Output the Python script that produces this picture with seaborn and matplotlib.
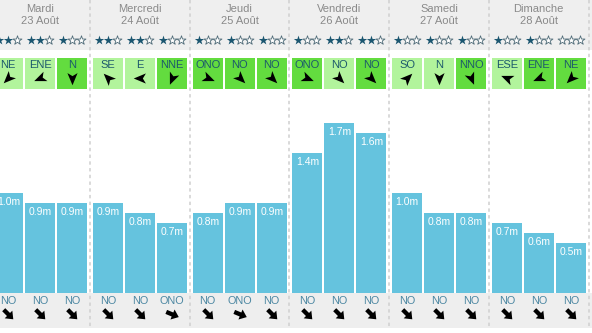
import numpy as np
import pandas as pd
import matplotlib
matplotlib.use("Agg")
import matplotlib.pyplot as plt
import seaborn as sns
from matplotlib.path import Path
from matplotlib.markers import MarkerStyle
from matplotlib.patches import Rectangle

# ---------------- data ----------------
days = ["Mardi", "Mercredi", "Jeudi", "Vendredi", "Samedi", "Dimanche"]
dates = ["23 Août", "24 Août", "25 Août", "26 Août", "27 Août", "28 Août"]
wind_dirs = ["NE", "ENE", "N", "SE", "E", "NNE", "ONO", "NO", "NO",
             "ONO", "NO", "NO", "SO", "N", "NNO", "ESE", "ENE", "NE"]
wind_strong = [0, 0, 1, 0, 0, 1, 1, 1, 1, 1, 0, 1, 0, 0, 1, 0, 1, 1]
stars = [2, 2, 1, 2, 2, 1, 1, 1, 1, 1, 2, 2, 1, 1, 1, 1, 1, 0]
wave_m = [1.0, 0.9, 0.9, 0.9, 0.8, 0.7, 0.8, 0.9, 0.9,
          1.4, 1.7, 1.6, 1.0, 0.8, 0.8, 0.7, 0.6, 0.5]
swell_dirs = ["NO", "NO", "NO", "NO", "NO", "ONO", "NO", "ONO", "NO",
              "NO", "NO", "NO", "NO", "NO", "NO", "NO", "NO", "NO"]

compass = {"N": 0, "NNE": 22.5, "NE": 45, "ENE": 67.5, "E": 90, "ESE": 112.5,
           "SE": 135, "SSE": 157.5, "S": 180, "SSO": 202.5, "SO": 225,
           "OSO": 247.5, "O": 270, "ONO": 292.5, "NO": 315, "NNO": 337.5}

# ---------------- layout ----------------
W, H = 592, 333
sns.set_style("white")
plt.rcParams["font.family"] = ["Liberation Sans", "DejaVu Sans"]

day_pitch = 99.7
first_sep = -9.7
slot_off = [18, 50, 82]
n_slots = 3
xpos = [first_sep + d * day_pitch + slot_off[s]
        for d in range(len(days)) for s in range(n_slots)]

fig = plt.figure(figsize=(W / 100, H / 100), dpi=100)
fig.patch.set_facecolor("white")

ax0 = fig.add_axes([0, 0, 1, 1])
ax0.set_xlim(0, W)
ax0.set_ylim(H, 0)
ax0.axis("off")

# bands
ax0.add_patch(Rectangle((0, 0), W, 50, color="#efefef", lw=0, zorder=0))
ax0.add_patch(Rectangle((0, 293), W, 35, color="#eeeeee", lw=0, zorder=0))

# separators
for d in range(1, len(days) + 1):
    xs = first_sep + d * day_pitch
    ax0.plot([xs, xs], [0, 328], color="#cfcfcf", lw=1.1,
             ls=(0, (2.2, 2.2)), zorder=1)

# day headers
for d, (dn, dt) in enumerate(zip(days, dates)):
    cx = first_sep + d * day_pitch + day_pitch / 2
    ax0.text(cx, 8.5, dn, ha="center", va="center", fontsize=8, color="#8a8a8a")
    ax0.text(cx, 21, dt, ha="center", va="center", fontsize=8, color="#8a8a8a")

# stars
filled_x, filled_y, empty_x, empty_y = [], [], [], []
for x, n in zip(xpos, stars):
    for k in range(3):
        sx = x + (k - 1) * 9
        if k < n:
            filled_x.append(sx); filled_y.append(40)
        else:
            empty_x.append(sx); empty_y.append(40)
ax0.scatter(filled_x, filled_y, marker="*", s=50, color="#1b5670", lw=0, zorder=3)
ax0.scatter(empty_x, empty_y, marker="*", s=46, facecolor="white",
            edgecolor="#4f6b78", lw=0.6, zorder=3)

# wind boxes
dart = Path([(1, 0), (-0.8, 0.75), (-0.35, 0), (-0.8, -0.75), (1, 0)],
            [Path.MOVETO, Path.LINETO, Path.LINETO, Path.LINETO, Path.CLOSEPOLY])
for x, wd, strong in zip(xpos, wind_dirs, wind_strong):
    ax0.add_patch(Rectangle((x - 15, 58), 30, 31,
                            color="#63dc3f" if strong else "#b2f49c", lw=0, zorder=2))
    ax0.text(x, 65.5, wd, ha="center", va="center", fontsize=8, color="#1d5a6c", zorder=3)
    ang = 90 - (compass[wd] + 180)
    ax0.scatter([x], [77.5], marker=MarkerStyle(dart).rotated(deg=ang), s=95,
                color="black", lw=0, zorder=3)

# swell footer
block = Path([(-1, -0.32), (0.0, -0.32), (0.0, -0.8), (1, 0), (0.0, 0.8),
              (0.0, 0.32), (-1, 0.32), (-1, -0.32)],
             [Path.MOVETO] + [Path.LINETO] * 6 + [Path.CLOSEPOLY])
for x, sd in zip(xpos, swell_dirs):
    ax0.text(x, 301.5, sd, ha="center", va="center", fontsize=7.8, color="#4c87a2", zorder=3)
    ang = 90 - (compass[sd] + 180)
    ax0.scatter([x], [314], marker=MarkerStyle(block).rotated(deg=ang), s=95,
                color="black", lw=0, zorder=3)

# ---------------- bars ----------------
axb = fig.add_axes([0, (H - 293) / H, 1, (293 - 90) / H])
axb.patch.set_alpha(0)
df = pd.DataFrame({"x": xpos, "wave": wave_m})
sns.barplot(data=df, x="x", y="wave", native_scale=True, color="#65c3de",
            saturation=1, width=30 / 32, errorbar=None, linewidth=0, ax=axb)
axb.set_xlim(0, W)
axb.set_ylim(0, 2.03)
axb.axis("off")
for x, h in zip(xpos, wave_m):
    axb.text(x, h - 0.088, f"{h:.1f}m", ha="center", va="center",
             fontsize=7.5, color="white")

fig.savefig("out.png", dpi=100)
